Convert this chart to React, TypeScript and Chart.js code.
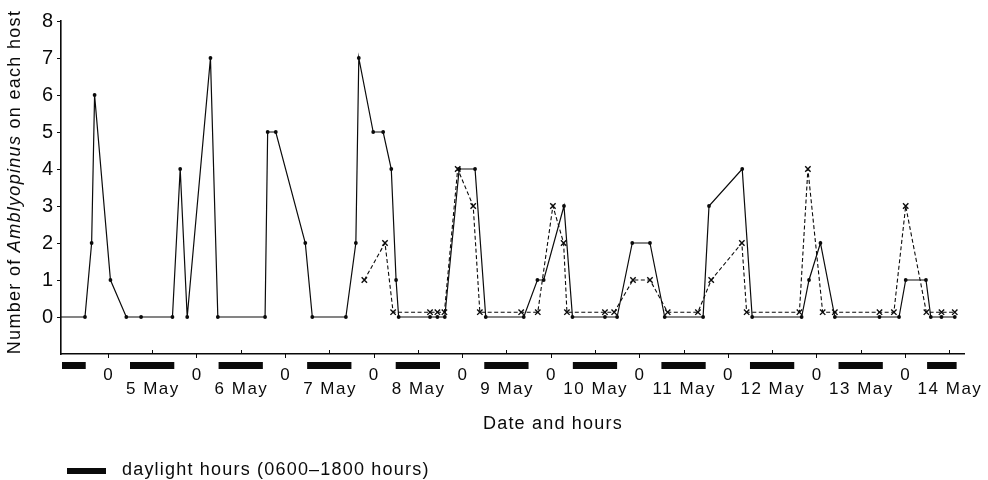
import React, { useEffect, useRef } from "react";
import { Chart, registerables } from "chart.js";

Chart.register(...registerables);

// ---- Data (hours counted from 00:00 on 4 May) ----
const solidHours = [
  11.3, 17.8, 19.6, 20.4, 24.7, 29.0, 33.0, 41.5, 43.6, 45.5,
  51.8, 53.8, 66.6, 67.3, 69.5, 77.5, 79.4, 88.5, 91.2, 92.0,
  95.9, 98.6, 100.8, 102.1, 102.8, 111.3, 113.3, 115.3, 119.2, 123.5,
  126.4, 136.7, 140.4, 142.1, 147.6, 149.9, 158.7, 162.0, 166.1, 170.9,
  174.9, 185.3, 186.9, 195.9, 198.6, 212.0, 214.0, 217.1, 221.0, 233.1,
  238.4, 240.2, 245.7, 247.0, 249.9, 253.5,
];
const solidCounts = [
  0, 0, 2, 6, 1, 0, 0, 0, 4, 0,
  7, 0, 0, 5, 5, 2, 0, 0, 2, 7,
  5, 5, 4, 1, 0, 0, 0, 0, 4, 4,
  0, 0, 1, 1, 3, 0, 0, 0, 2, 2,
  0, 0, 3, 4, 0, 0, 1, 2, 0, 0,
  0, 1, 1, 0, 0, 0,
];

const dashedHours = [
  93.5, 99.1, 101.3, 111.3, 113.3, 115.2, 118.8, 123.0, 124.8, 136.0,
  140.5, 144.6, 147.5, 148.4, 158.7, 161.2, 166.3, 170.9, 175.7, 183.9,
  187.5, 195.8, 197.1, 211.4, 213.7, 217.7, 221.0, 233.1, 237.0, 240.2,
  245.8, 249.9, 253.5,
];
const dashedCounts = [
  1, 2, 0, 0, 0, 0, 4, 3, 0, 0,
  0, 3, 2, 0, 0, 0, 1, 1, 0, 0,
  1, 2, 0, 0, 4, 0, 0, 0, 0, 3,
  0, 0, 0,
];

const daylightStart = [6, 30, 54, 78, 102, 126, 150, 174, 198, 222, 246];
const daylightEnd = [18, 42, 66, 90, 114, 138, 162, 186, 210, 234, 254];

const midnightHours = [24, 48, 72, 96, 120, 144, 168, 192, 216, 240];
const midnightLabel = "0";
const noonHours = [36, 60, 84, 108, 132, 156, 180, 204, 228, 252];
const dateLabels = [
  "5 May", "6 May", "7 May", "8 May", "9 May",
  "10 May", "11 May", "12 May", "13 May", "14 May",
];

const yTitleParts = [
  { text: "Number of ", italic: false },
  { text: "Amblyopinus", italic: true },
  { text: " on each host", italic: false },
];
const xTitle = "Date and hours";
const legendText = "daylight hours (0600–1800 hours)";

// ---- Style ----
const X_MIN = 11.3;
const X_MAX = 256;
const INK = "#0a0a0a";
const FONT = '"Liberation Sans", Arial, sans-serif';
const DASHED_ZERO_OFFSET = 0.13; // drafting offset so the two zero lines do not overlap

const overlayPlugin = {
  id: "overlay",
  afterDraw(chart: any) {
    const { ctx, chartArea, scales } = chart;
    const xs = scales.x;
    const bottom = chartArea.bottom;
    ctx.save();
    ctx.fillStyle = INK;
    ctx.strokeStyle = INK;

    // x-axis ticks: midnight down, noon up
    ctx.lineWidth = 1;
    ctx.beginPath();
    midnightHours.forEach((h) => {
      const px = Math.round(xs.getPixelForValue(h)) + 0.5;
      ctx.moveTo(px, bottom);
      ctx.lineTo(px, bottom + 4);
    });
    noonHours.forEach((h) => {
      const px = Math.round(xs.getPixelForValue(h)) + 0.5;
      ctx.moveTo(px, bottom);
      ctx.lineTo(px, bottom - 4);
    });
    ctx.stroke();

    // daylight bars
    daylightStart.forEach((s, i) => {
      const x1 = Math.max(xs.getPixelForValue(s), chartArea.left + 1);
      const x2 = Math.min(xs.getPixelForValue(daylightEnd[i]), chartArea.right);
      ctx.fillRect(x1, bottom + 8, x2 - x1, 7);
    });

    // x labels
    const sp = 1.5;
    (ctx as any).letterSpacing = sp + "px";
    ctx.font = `17px ${FONT}`;
    ctx.textAlign = "center";
    ctx.textBaseline = "alphabetic";
    midnightHours.forEach((h) => {
      ctx.fillText(midnightLabel, xs.getPixelForValue(h) + sp / 2, bottom + 26);
    });
    noonHours.forEach((h, i) => {
      ctx.fillText(dateLabels[i], xs.getPixelForValue(h) + sp / 2, bottom + 39.5);
    });

    // x title
    ctx.font = `18px ${FONT}`;
    (ctx as any).letterSpacing = "1.2px";
    ctx.textAlign = "left";
    ctx.fillText(xTitle, 483, 429);

    // legend
    ctx.fillRect(67, 468, 39, 6);
    ctx.fillText(legendText, 122, 475);

    // y title (rotated, mixed italic)
    ctx.translate(20, 182);
    ctx.rotate(-Math.PI / 2);
    (ctx as any).letterSpacing = "1.3px";
    const fontFor = (it: boolean) => `${it ? "italic " : ""}18px ${FONT}`;
    let total = 0;
    yTitleParts.forEach((p) => {
      ctx.font = fontFor(p.italic);
      total += ctx.measureText(p.text).width;
    });
    let cx = -total / 2;
    yTitleParts.forEach((p) => {
      ctx.font = fontFor(p.italic);
      ctx.fillText(p.text, cx, 0);
      cx += ctx.measureText(p.text).width;
    });

    ctx.restore();
  },
};

export default function App() {
  const ref = useRef<HTMLCanvasElement | null>(null);

  useEffect(() => {
    if (!ref.current) return;
    const chart = new Chart(ref.current, {
      type: "line",
      data: {
        datasets: [
          {
            label: "solid",
            data: solidHours.map((h, i) => ({ x: h, y: solidCounts[i] })),
            borderColor: INK,
            borderWidth: 1.2,
            tension: 0,
            pointStyle: "circle",
            pointRadius: (c: any) => (c.dataIndex === 0 ? 0 : 1.9),
            pointBackgroundColor: INK,
            pointBorderWidth: 0,
            fill: false,
          },
          {
            label: "dashed",
            data: dashedHours.map((h, i) => ({
              x: h,
              y: dashedCounts[i] === 0 ? DASHED_ZERO_OFFSET : dashedCounts[i],
            })),
            borderColor: INK,
            borderWidth: 1.1,
            borderDash: [4, 2.5],
            tension: 0,
            pointStyle: "crossRot",
            pointRadius: 3.8,
            pointBorderColor: INK,
            pointBorderWidth: 1.4,
            fill: false,
          },
        ],
      },
      options: {
        animation: false,
        responsive: false,
        devicePixelRatio: 1,
        layout: { padding: { left: 0, top: 21, right: 24, bottom: 126 } },
        plugins: {
          legend: { display: false },
          tooltip: { enabled: false },
        },
        scales: {
          x: {
            type: "linear",
            min: X_MIN,
            max: X_MAX,
            grid: { display: false },
            ticks: { display: false },
            border: { display: true, color: INK, width: 1.6 },
            afterFit: (s: any) => {
              s.height = 0;
            },
          },
          y: {
            min: -1,
            max: 8,
            ticks: {
              stepSize: 1,
              color: INK,
              padding: 4,
              font: { family: FONT, size: 20 },
              callback: (v: any) => (Number(v) < 0 ? "" : String(v)),
            },
            grid: {
              drawOnChartArea: false,
              drawTicks: true,
              tickLength: 4,
              lineWidth: 1,
              color: (c: any) => (c.tick && c.tick.value < 0 ? "rgba(0,0,0,0)" : INK),
            },
            border: { display: true, color: INK, width: 1.6 },
            afterFit: (s: any) => {
              s.width = 61;
            },
          },
        },
      },
      plugins: [overlayPlugin],
    } as any);
    return () => chart.destroy();
  }, []);

  return (
    <div style={{ position: "fixed", left: 0, top: 0, width: 988, height: 480, background: "#fff" }}>
      <canvas ref={ref} width={988} height={480} style={{ display: "block" }} />
    </div>
  );
}
